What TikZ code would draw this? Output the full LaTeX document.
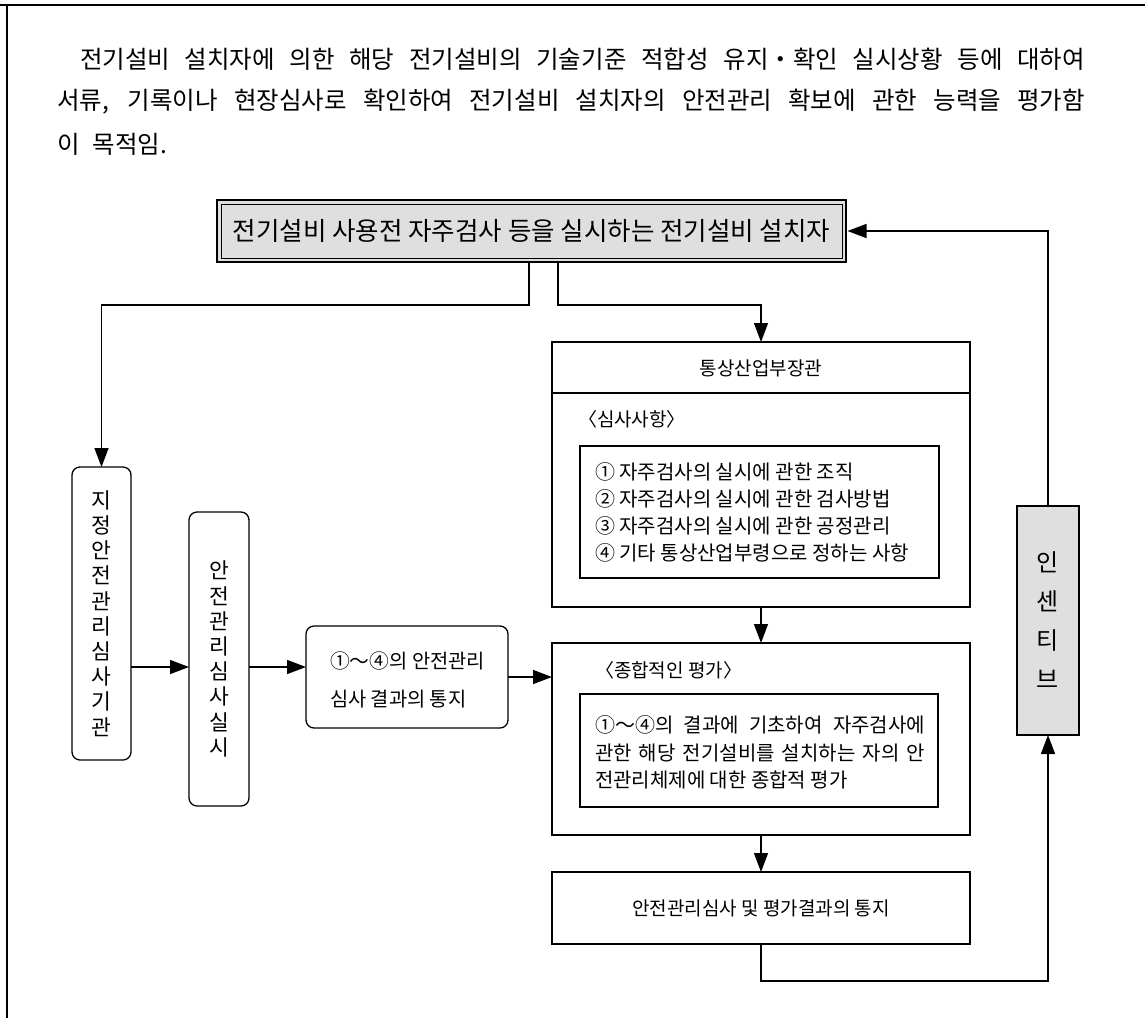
\documentclass[tikz,border=0pt]{standalone}
\usepackage{fontspec}
\setmainfont{Noto Sans CJK KR}
\usetikzlibrary{arrows.meta}
\begin{document}
\begin{tikzpicture}[x=1pt,y=-1pt,
  every node/.style={inner sep=0pt, outer sep=0pt},
  arr/.style={line width=1.4pt, -{Triangle[length=19pt,width=14pt]}},
  box/.style={draw, line width=1.3pt, rectangle},
  rbox/.style={box, rounded corners=8pt},
  shade/.style={fill=gray!25},
  para/.style={anchor=west, font=\fontsize{24.5}{29}\selectfont},
  vtext/.style={align=center, font=\fontsize{21.5}{25.2}\selectfont},
  txt/.style={font=\fontsize{19}{27}\selectfont},
]
\useasboundingbox (0,0) rectangle (1145,1018);

% page frame
\draw[line width=2.2pt] (0,5) -- (1145,5);
\draw[line width=1.6pt] (7,5) -- (7,1018);

% introductory paragraph
\node[para] (p1) at (80,59) {\makebox[1005pt][s]{전기설비 설치자에 의한 해당 전기설비의 기술기준 적합성 유지・확인 실시상황 등에 대하여}};
\node[para] (p2) at (57,102) {\makebox[1028pt][s]{서류, 기록이나 현장심사로 확인하여 전기설비 설치자의 안전관리 확보에 관한 능력을 평가함}};
\node[para] (p3) at (57,144) {\makebox[110pt][s]{이 목적임.}};

% installer box (double border, shaded)
\node[box, shade, line width=1.8pt, minimum width=629pt, minimum height=62pt,
      font=\fontsize{25.5}{30}\selectfont] (top) at (531.5,231)
      {전기설비 사용전 자주검사 등을 실시하는 전기설비 설치자};
\draw[line width=0.8pt] ([shift={(4pt,-4pt)}]top.north west) rectangle ([shift={(-4pt,4pt)}]top.south east);

% left column
\node[rbox, vtext, minimum width=59pt, minimum height=293pt] (inst) at (101.5,613.5)
  {지\\정\\안\\전\\관\\리\\심\\사\\기\\관};
\node[rbox, vtext, minimum width=60pt, minimum height=294pt] (exam) at (219,659)
  {안\\전\\관\\리\\심\\사\\실\\시};
\node[rbox, minimum width=202pt, minimum height=102pt] (note) at (407,677) {};
\node[anchor=west, align=left, font=\fontsize{19.8}{38}\selectfont] (notetxt) at (330,680)
  {①～④의 안전관리\\심사 결과의 통지};

% ministry box
\node[box, minimum width=418pt, minimum height=265pt] (mot) at (761,474.5) {};
\draw[line width=1.3pt] (mot.west |- 0,393) coordinate (hdl) -- (mot.east |- hdl);
\node[txt] (mottitle) at (761,368) {통상산업부장관};
\node[txt, anchor=west] (motlabel) at (578,419) {〈심사사항〉};
\node[box, minimum width=359pt, minimum height=132pt] (items) at (759.5,512) {};
\node[anchor=west, align=left, font=\fontsize{20}{27}\selectfont] (itemtxt) at (595,512)
  {① 자주검사의 실시에 관한 조직\\
   ② 자주검사의 실시에 관한 검사방법\\
   ③ 자주검사의 실시에 관한 공정관리\\
   ④ 기타 통상산업부령으로 정하는 사항};

% overall evaluation box
\node[box, minimum width=418pt, minimum height=192pt] (eval) at (761,739) {};
\node[txt, anchor=west] (evallabel) at (595,670) {〈종합적인 평가〉};
\node[box, minimum width=358pt, minimum height=113pt] (evalin) at (759,750.5) {};
\node[anchor=west, align=left, font=\fontsize{20}{27.5}\selectfont] (evaltxt) at (595,752.5)
  {\makebox[330pt][s]{①～④의 결과에 기초하여 자주검사에}\\
   \makebox[330pt][s]{관한 해당 전기설비를 설치하는 자의 안}\\
   전관리체제에 대한 종합적 평가};

% result notice box
\node[box, txt, minimum width=418pt, minimum height=72pt] (res) at (761,908)
  {안전관리심사 및 평가결과의 통지};

% incentive box
\node[box, shade, align=center, minimum width=62pt, minimum height=229pt,
      font=\fontsize{24}{39}\selectfont] (inc) at (1048,620.5) {인\\센\\티\\브};

% connectors
\coordinate (jL) at (529,305);
\coordinate (jR) at (558,305);
\coordinate (rowA) at (0,667);
\coordinate (loopB) at (0,981);
\draw[arr] (top.south -| jL) -- (jL) -| (inst.north);
\draw[arr] (top.south -| jR) -- (jR) -| (mot.north);
\draw[arr] (inst.east |- rowA) -- (exam.west |- rowA);
\draw[arr] (exam.east |- rowA) -- (note.west |- rowA);
\draw[arr] (note.east) -- (note.east -| eval.west);
\draw[arr] (mot.south) -- (eval.north);
\draw[arr] (eval.south) -- (res.north);
\draw[arr] (res.south) |- (inc.south |- loopB) -- (inc.south);
\draw[arr, shorten >=1.5pt] (inc.north) |- (top.east);
\end{tikzpicture}
\end{document}
